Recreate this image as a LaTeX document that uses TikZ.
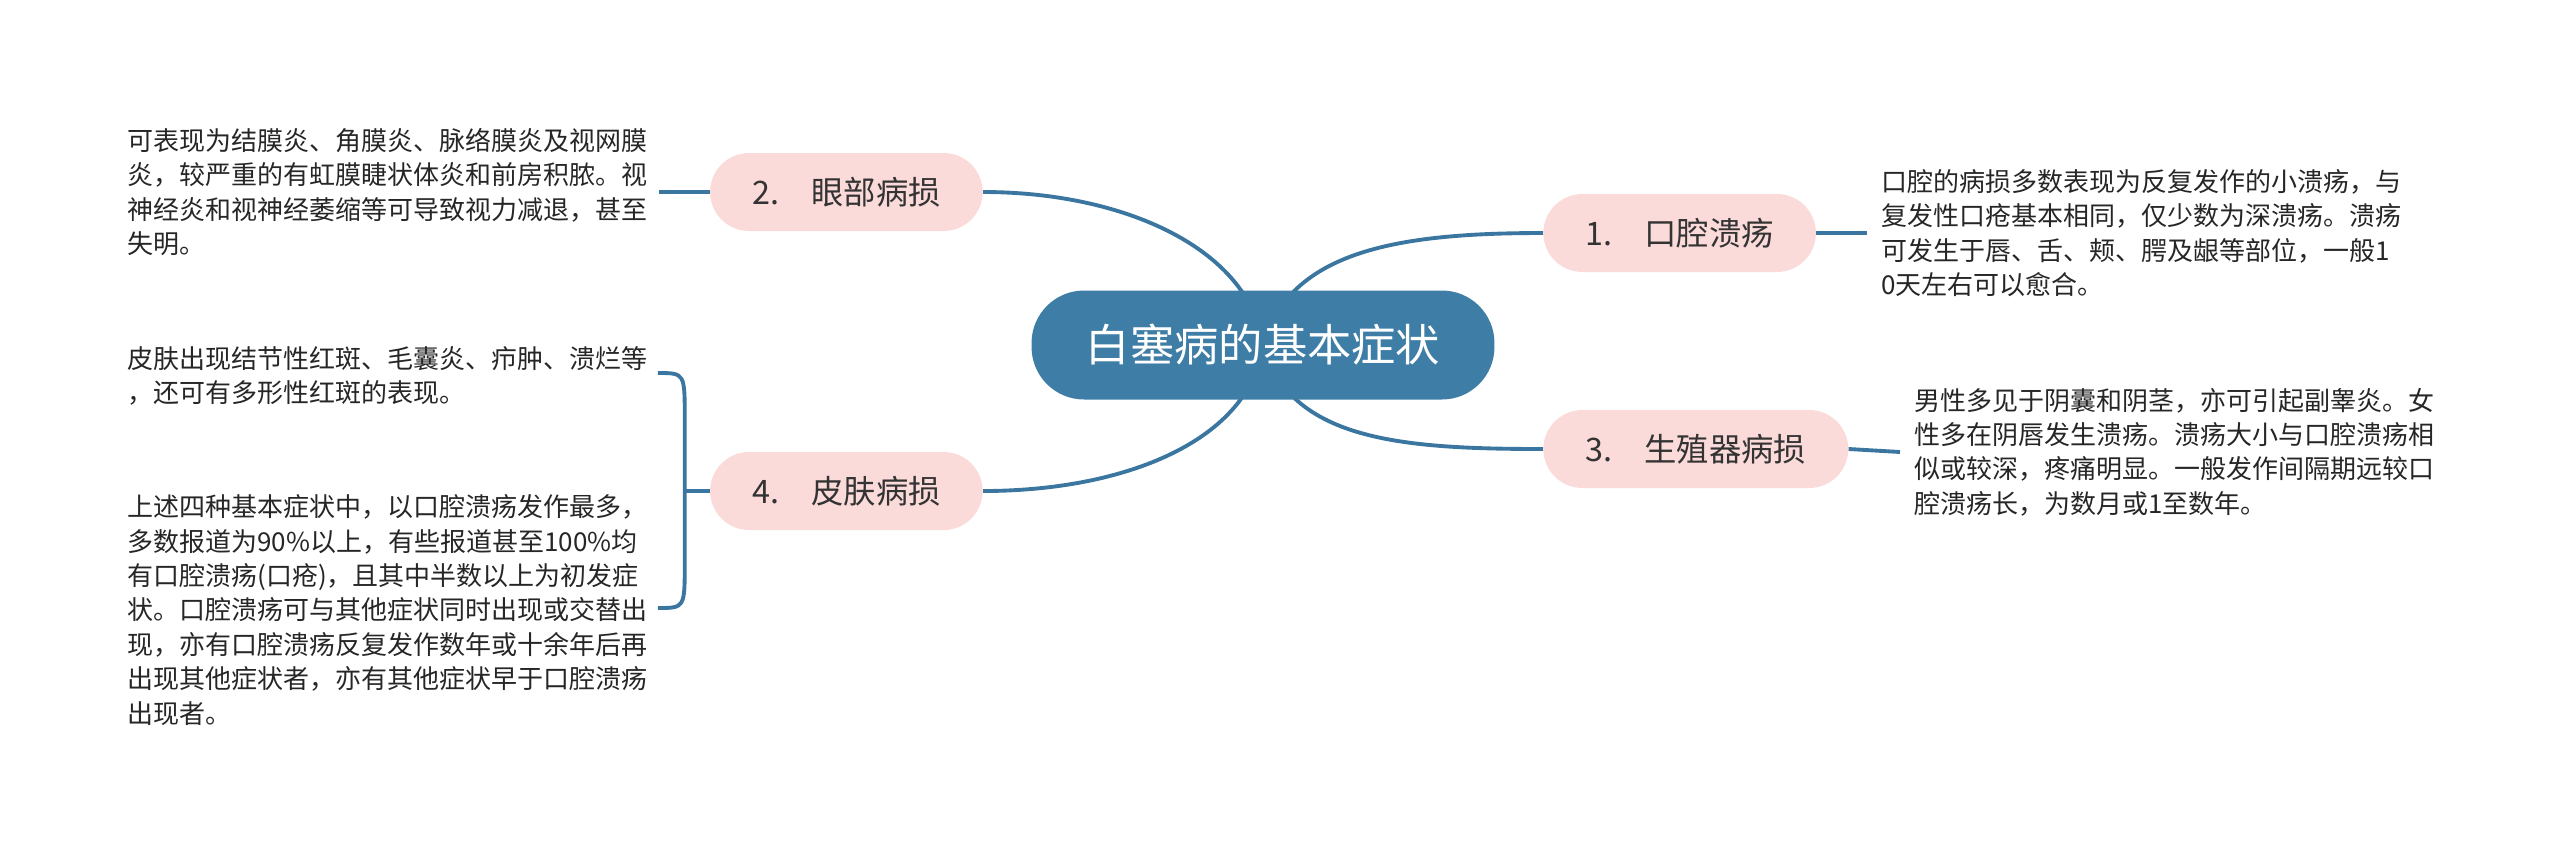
\documentclass[tikz,border=0pt]{standalone}
\usepackage{fontspec}
\setmainfont{Noto Sans CJK SC}
\usetikzlibrary{backgrounds,calc}
\definecolor{topicblue}{HTML}{3E7DA5}
\definecolor{linkblue}{HTML}{3A76A0}
\definecolor{subpink}{HTML}{FBDADA}
\definecolor{notegray}{HTML}{262626}

\begin{document}
\begin{tikzpicture}[x=0.02cm, y=-0.02cm,
    root/.style={fill=topicblue, text=white, rounded corners=1.05cm,
      minimum width=9.26cm, minimum height=2.18cm,
      font=\fontsize{25.2pt}{30pt}\selectfont},
    sub/.style={fill=subpink, text=black!80, rounded corners=0.78cm,
      minimum height=1.56cm, inner xsep=0.84cm,
      font=\fontsize{18.4pt}{22pt}\selectfont},
    note/.style={align=left, inner sep=0pt, text=notegray,
      font=\fontsize{14.8pt}{19.6pt}\selectfont},
    link/.style={draw=linkblue, line width=2.2pt}]
  \useasboundingbox (0,0) rectangle (2560,850);

  \node[root] (root) at (1263,345) {白塞病的基本症状};

  % the four symptom groups
  \foreach \name/\anc/\x/\y/\txt in {
      n1/west/1543/233/{1.\quad 口腔溃疡},
      n2/east/983/192/{2.\quad 眼部病损},
      n3/west/1543/449/{3.\quad 生殖器病损},
      n4/east/983/491/{4.\quad 皮肤病损}} {
    \node[sub, anchor=\anc] (\name) at (\x,\y) {\txt};
  }

  % notes
  \node[note, anchor=west] (t1) at (1881,233) {口腔的病损多数表现为反复发作的小溃疡，与\\
复发性口疮基本相同，仅少数为深溃疡。溃疡\\
可发生于唇、舌、颊、腭及龈等部位，一般1\\
0天左右可以愈合。};
  \node[note, anchor=west] (t3) at (1914,452) {男性多见于阴囊和阴茎，亦可引起副睾炎。女\\
性多在阴唇发生溃疡。溃疡大小与口腔溃疡相\\
似或较深，疼痛明显。一般发作间隔期远较口\\
腔溃疡长，为数月或1至数年。};
  \node[note, anchor=west] (t2) at (127,192) {可表现为结膜炎、角膜炎、脉络膜炎及视网膜\\
炎，较严重的有虹膜睫状体炎和前房积脓。视\\
神经炎和视神经萎缩等可导致视力减退，甚至\\
失明。};
  \node[note, anchor=west] (t4a) at (127,376) {皮肤出现结节性红斑、毛囊炎、疖肿、溃烂等\\
，还可有多形性红斑的表现。};
  \node[note, anchor=west] (t4b) at (127,610) {上述四种基本症状中，以口腔溃疡发作最多，\\
多数报道为90\%以上，有些报道甚至100\%均\\
有口腔溃疡(口疮)，且其中半数以上为初发症\\
状。口腔溃疡可与其他症状同时出现或交替出\\
现，亦有口腔溃疡反复发作数年或十余年后再\\
出现其他症状者，亦有其他症状早于口腔溃疡\\
出现者。};

  % branches from the root
  \begin{scope}[on background layer]
    \draw[link] (root.center) .. controls ($(root.center)+(27,-95)$) and ($(n1.west)+(-143,0)$) .. (n1.west);
    \draw[link] (root.center) .. controls ($(root.center)+(-13,-95)$) and ($(n2.east)+(143,0)$) .. (n2.east);
    \draw[link] (root.center) .. controls ($(root.center)+(27,95)$) and ($(n3.west)+(-143,0)$) .. (n3.west);
    \draw[link] (root.center) .. controls ($(root.center)+(-13,95)$) and ($(n4.east)+(143,0)$) .. (n4.east);
  \end{scope}

  % short links to the notes
  \draw[link] (n1.east) -- ($(t1.west)+(-14,0)$);
  \draw[link] (n3.east) -- ($(t3.west)+(-14,0)$);
  \draw[link] ($(t2.east)+(11,0)$) -- (n2.west);

  % bracket for the two skin notes
  \coordinate (fork) at ($(n4.west)+(-25,0)$);
  \coordinate (ta) at ($(t4a.east)+(10,-3)$);
  \coordinate (tb) at ($(t4b.east)+(10,-2)$);
  \draw[link] (n4.west) -- (fork);
  \draw[link] (ta) .. controls (fork |- ta) .. ($(fork |- ta)+(0,45)$)
    -- ($(fork |- tb)+(0,-45)$) .. controls (fork |- tb) .. (tb);
\end{tikzpicture}
\end{document}
